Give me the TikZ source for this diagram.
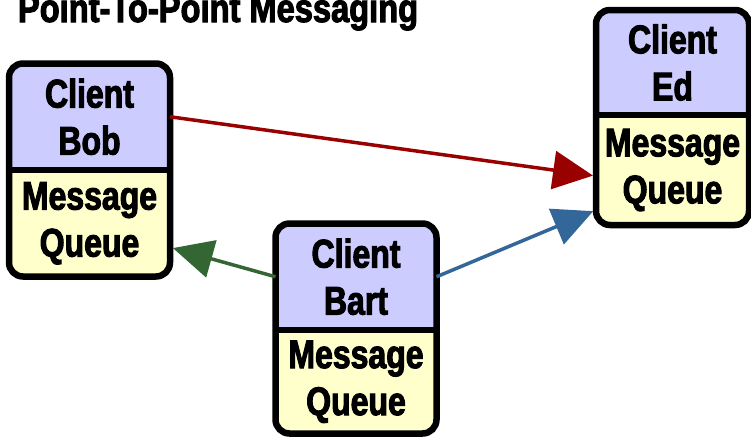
\documentclass[tikz,border=0pt]{standalone}
\usepackage{fontspec}
\usetikzlibrary{arrows.meta}
\newfontfamily\boxfont{Liberation Sans}[FakeStretch=0.8,BoldFeatures={FakeBold=2.5}]
\definecolor{lav}{HTML}{CCCCFF}
\definecolor{cream}{HTML}{FFFFCC}
\definecolor{redline}{HTML}{990000}
\definecolor{greenline}{HTML}{336633}
\definecolor{blueline}{HTML}{336699}
\pgfdeclarelayer{background}
\pgfdeclarelayer{paper}
\pgfsetlayers{paper,background,main}
\tikzset{
  part/.style={inner sep=0pt, outer sep=0pt, align=center,
    font=\boxfont\bfseries\fontsize{40}{47}\selectfont},
  frame/.style={draw=black, line width=6.5pt},
  msg/.style={line width=3.5pt,
    -{Triangle[length=40pt,width=38pt]}, shorten >=3pt},
}
% client box: top part (name) over queue part
\newcommand\clientframe[2]{%
  \begin{pgfonlayer}{background}
    \begin{scope}
      \clip[rounded corners=14pt] (#1.north west) rectangle (#2.south east);
      \fill[lav] (#1.north west) rectangle (#1.south east);
      \fill[cream] (#2.north west) rectangle (#2.south east);
    \end{scope}
    \draw[frame, rounded corners=14pt] (#1.north west) rectangle (#2.south east);
    \draw[frame] (#1.south west) -- (#1.south east);
  \end{pgfonlayer}}
\begin{document}
\begin{tikzpicture}[x=1pt, y=-1pt]
\useasboundingbox (0,0) rectangle (751,437);
\begin{pgfonlayer}{paper}
  \fill[white] (0,0) rectangle (751,437);
\end{pgfonlayer}

\node[part, anchor=base west, xscale=1.02] (title) at (18,22) {Point-To-Point Messaging};

% Bob
\node[part, minimum width=161pt, minimum height=106.5pt] (bobtop) at (89.5,116.75) {Client\\Bob};
\node[part, minimum width=161pt, minimum height=106.5pt] (bobq) at (89.5,223.25) {Message\\Queue};
\clientframe{bobtop}{bobq}

% Bart
\node[part, minimum width=161pt, minimum height=106.5pt] (barttop) at (356,276.75) {Client\\Bart};
\node[part, minimum width=161pt, minimum height=103.5pt] (bartq) at (356,381.75) {Message\\Queue};
\clientframe{barttop}{bartq}

% Ed
\node[part, minimum width=153pt, minimum height=105pt] (edtop) at (672.5,62.5) {Client\\Ed};
\node[part, minimum width=153pt, minimum height=110pt] (edq) at (672.5,170) {Message\\Queue};
\clientframe{edtop}{edq}

% messages
\draw[msg, redline] (bobtop.east) -- ([yshift=-6pt]edq.west);
\draw[msg, blueline] (barttop.east) -- ([yshift=-40pt]edq.west);
\draw[msg, greenline] (barttop.west) -- ([yshift=-24pt]bobq.east);
\end{tikzpicture}
\end{document}
